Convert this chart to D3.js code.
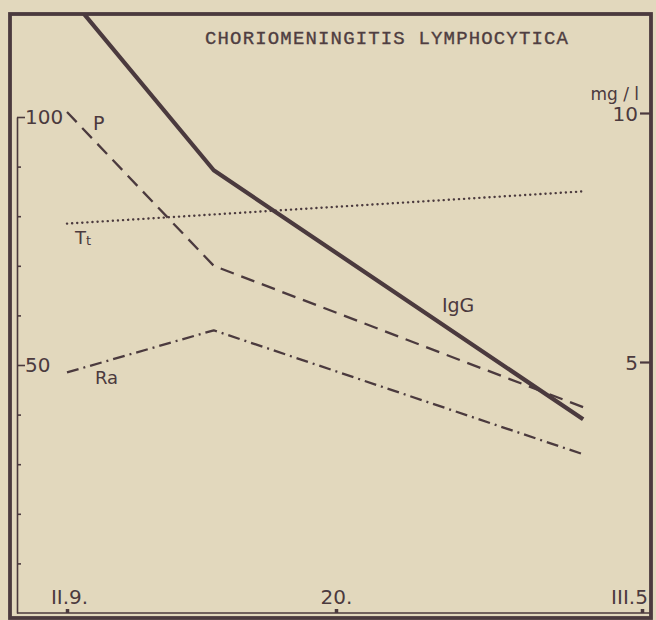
<!DOCTYPE html>
<html>
<head>
<meta charset="utf-8">
<script src="https://cdn.jsdelivr.net/npm/d3@7"></script>
<style>
  html, body { margin: 0; padding: 0; background: #e2d8bd; }
  svg { display: block; }
  .lbl { font-family: "DejaVu Sans", sans-serif; fill: #4b3a3e; }
</style>
</head>
<body>
<svg id="chart" width="656" height="620"></svg>
<script>
// days counted from II.9 (9 February)
const tickDays = [0, 11, 24];
const tickLabels = ["II.9.", "20.", "III.5"];
const days = [0, 6, 21.5];
const ttDays = [0, 21.5];

// left axis series (0-100)
const protein = [101, 70, 41.5];   // P
const ra = [48.5, 57, 32];         // Ra
const tt = [78.5, 85];             // Tt
// right axis series (mg/l)
const igg = [12.4, 8.85, 3.85];    // IgG

const leftTicks = [0, 10, 20, 30, 40, 50, 60, 70, 80, 90, 100];
const leftLabeled = [50, 100];
const rightTicks = [5, 10];

const ink = "#4b3a3e";
const svg = d3.select("#chart");

// frame box
const fr = { l: 10, t: 14, r: 651, b: 618 };

const x = d3.scaleLinear().domain(tickDays).range([67, 336, 642]);
const yL = d3.scaleLinear().domain([0, 100]).range([613, 117]);
const yR = d3.scaleLinear().domain([0, 10]).range([611, 113]);

svg.append("defs").append("clipPath").attr("id", "clip")
  .append("rect")
  .attr("x", fr.l).attr("y", fr.t)
  .attr("width", fr.r - fr.l).attr("height", fr.b - fr.t);

// title
svg.append("text")
  .attr("x", 205).attr("y", 44)
  .attr("textLength", 363).attr("lengthAdjust", "spacing")
  .style("font-family", "'Liberation Mono', monospace")
  .style("font-size", "19px")
  .style("fill", "#4f3e41")
  .style("stroke", "#4f3e41").style("stroke-width", 0.35)
  .text("CHORIOMENINGITIS LYMPHOCYTICA");

// left axis
const gl = svg.append("g").attr("transform", "translate(17,0)")
  .call(d3.axisRight(yL).tickValues(leftTicks).tickSizeOuter(0).tickPadding(2)
    .tickFormat(d => leftLabeled.includes(d) ? d : ""));
gl.select(".domain").attr("stroke", ink).attr("stroke-width", 1.6);
gl.selectAll(".tick line")
  .attr("stroke", ink).attr("stroke-width", 1.6)
  .attr("x2", d => leftLabeled.includes(d) ? 8 : 4);
gl.selectAll(".tick text")
  .attr("x", 8).attr("class", "lbl").style("font-size", "20px");
gl.selectAll(".tick").filter(d => d === 0).remove();

// right axis
const gr = svg.append("g").attr("transform", "translate(" + fr.r + ",0)")
  .call(d3.axisLeft(yR).tickValues(rightTicks).tickSize(11).tickPadding(2));
gr.select(".domain").remove();
gr.selectAll(".tick line").attr("stroke", ink).attr("stroke-width", 2.2);
gr.selectAll(".tick text").attr("class", "lbl").style("font-size", "20px")
  .attr("dy", "0.36em");

svg.append("text").attr("class", "lbl")
  .attr("x", 639).attr("y", yR(10) - 13)
  .attr("text-anchor", "end")
  .style("font-size", "17px")
  .text("mg / l");

// bottom axis
svg.append("line")
  .attr("x1", 17).attr("x2", fr.r)
  .attr("y1", yL(0)).attr("y2", yL(0))
  .attr("stroke", ink).attr("stroke-width", 1.6);
const gb = svg.append("g").attr("transform", "translate(0," + yL(0) + ")")
  .call(d3.axisTop(x).tickValues(tickDays).tickSize(4).tickPadding(5)
    .tickFormat((d, i) => tickLabels[i]));
gb.select(".domain").remove();
gb.selectAll(".tick line").attr("stroke", ink).attr("stroke-width", 3.5);
gb.selectAll(".tick text").attr("class", "lbl").style("font-size", "20px")
  .attr("dx", (d, i) => i === 0 ? 2 : (i === 2 ? -13 : 0));

// series
const plot = svg.append("g").attr("clip-path", "url(#clip)");

function draw(xs, vals, scale, width, dash, cap) {
  const pts = xs.map((d, i) => ({ day: d, v: vals[i] }));
  plot.append("path")
    .datum(pts)
    .attr("fill", "none")
    .attr("stroke", ink)
    .attr("stroke-width", width)
    .attr("stroke-dasharray", dash)
    .attr("stroke-linecap", cap || "butt")
    .attr("stroke-linejoin", "round")
    .attr("d", d3.line().x(d => x(d.day)).y(d => scale(d.v)));
}

draw(days, igg, yR, 4.2, null);
draw(days, protein, yL, 2.3, "14,8");
draw(days, ra, yL, 2.3, "12,5,2,5");
draw(ttDays, tt, yL, 2.4, "0.1,5", "round");

// series labels
svg.append("text").attr("class", "lbl").style("font-size", "19px")
  .attr("x", x(days[0]) + 26).attr("y", yL(protein[0]) + 18).text("P");
const ttl = svg.append("text").attr("class", "lbl").style("font-size", "18px")
  .attr("x", x(ttDays[0]) + 8).attr("y", yL(tt[0]) + 20);
ttl.append("tspan").text("T");
ttl.append("tspan").style("font-size", "13px").attr("dy", 1).text("t");
svg.append("text").attr("class", "lbl").style("font-size", "18px")
  .attr("x", x(days[0]) + 28).attr("y", yL(ra[0]) + 12).text("Ra");
svg.append("text").attr("class", "lbl").style("font-size", "19px")
  .attr("x", x(15.5)).attr("y", yR(6)).text("IgG");

// outer frame
svg.append("rect")
  .attr("x", fr.l).attr("y", fr.t)
  .attr("width", fr.r - fr.l).attr("height", fr.b - fr.t)
  .attr("fill", "none").attr("stroke", ink).attr("stroke-width", 3.8);
</script>
</body>
</html>
